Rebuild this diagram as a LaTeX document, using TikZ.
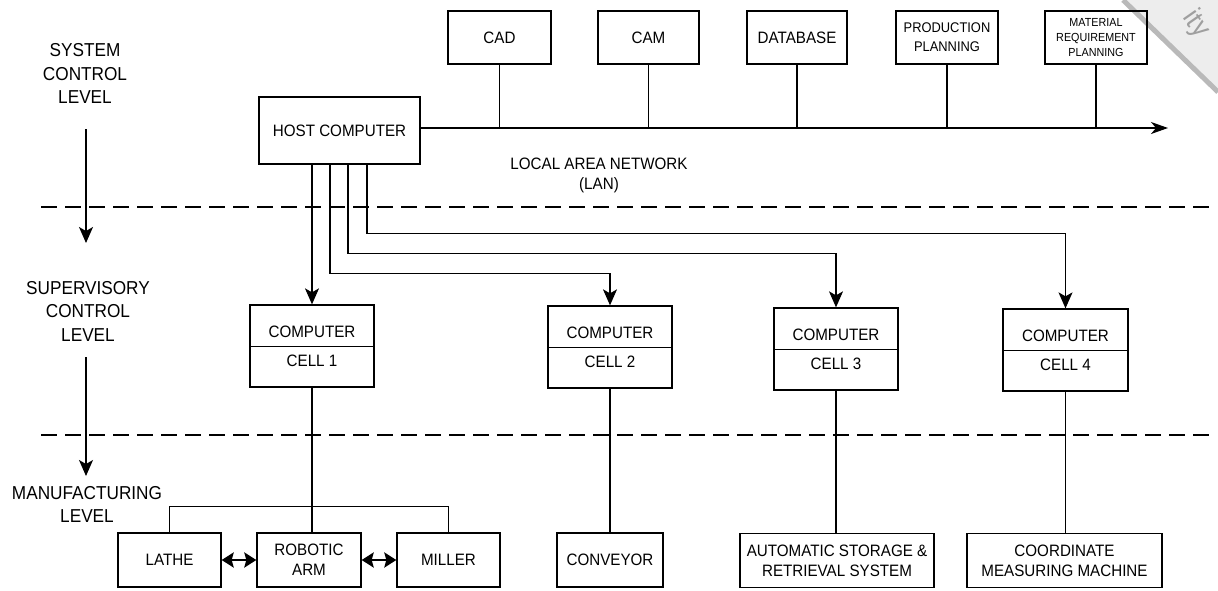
\documentclass[tikz,border=0pt]{standalone}
\usepackage{fontspec}
\setmainfont{Liberation Sans}[FakeStretch=0.92]
\usetikzlibrary{arrows.meta}
\newcommand\dgmain{\fontsize{16.5}{20}\selectfont}
\newcommand\dgbig{\fontsize{18.7}{23.5}\selectfont}
\newcommand\dgpp{\fontsize{14}{19}\selectfont}
\newcommand\dgmrp{\fontsize{11.7}{15}\selectfont}
\begin{document}
\begin{tikzpicture}[x=1pt,y=-1pt,
  line width=1.3pt,
  box/.style={draw,inner sep=0pt,align=center,font=\dgmain},
  lbl/.style={inner sep=0pt,align=center,font=\dgbig},
  txt/.style={inner sep=0pt,align=center,font=\dgmain},
  arr/.style={-{Stealth[length=16pt,width=14pt,inset=4pt]}},
  dbl/.style={line width=2.6pt,{Stealth[length=12pt,width=15pt,inset=2pt]}-{Stealth[length=12pt,width=15pt,inset=2pt]}},
  dsh/.style={dash pattern=on 16pt off 8pt}]
\useasboundingbox (0,0) rectangle (1218,590);
% watermark fragment
\fill[gray!14] (1123,0) -- (1218,0) -- (1218,92) -- cycle;
\draw[gray!55,line width=5pt] (1123,0) -- (1218,92);
\node[gray!75,font=\fontsize{28}{28}\selectfont,rotate=-55] (wm) at (1196,24) {ity};
% top boxes
\node[box,minimum width=103,minimum height=53] (cad) at (499.5,37.5) {CAD};
\node[box,minimum width=101,minimum height=53] (cam) at (648.5,37.5) {CAM};
\node[box,minimum width=100,minimum height=53] (db) at (797,37.5) {DATABASE};
\node[box,minimum width=102,minimum height=53,font=\dgpp] (pp) at (947,37.5) {PRODUCTION\\PLANNING};
\node[box,minimum width=102,minimum height=53,font=\dgmrp] (mrp) at (1096,37.5) {MATERIAL\\REQUIREMENT\\PLANNING};
% host
\node[box,minimum width=161,minimum height=67] (host) at (339.5,130.5) {HOST COMPUTER};
\coordinate (lanend) at (1168,128);
\draw[-{Stealth[length=17pt,width=12pt,inset=5pt]}] (host.east |- lanend) -- (lanend);
\foreach \n in {cad,cam,db,pp,mrp} \draw (\n.south) -- (\n.south |- lanend);
\node[txt] (lan) at (599,175) {LOCAL AREA NETWORK\\(LAN)};
% level labels
\node[lbl] (sys) at (85,73.5) {SYSTEM\\CONTROL\\LEVEL};
\node[lbl] (sup) at (88,311) {SUPERVISORY\\CONTROL\\LEVEL};
\node[lbl] (man) at (87,504.5) {MANUFACTURING\\LEVEL};
\coordinate (a1s) at (86,129);
\coordinate (a1e) at (86,243);
\coordinate (a2s) at (86,357);
\coordinate (a2e) at (86,476);
\draw[arr] (a1s) -- (a1e);
\draw[arr] (a2s) -- (a2e);
% dashed separators
\coordinate (d1l) at (41,207);
\coordinate (d1r) at (1214,207);
\coordinate (d2l) at (41,435);
\coordinate (d2r) at (1214,435);
\draw[dsh] (d1l) -- (d1r);
\draw[dsh] (d2l) -- (d2r);
% cells
\node[draw,inner sep=0pt,minimum width=124,minimum height=82] (c1) at (312,346) {};
\node[draw,inner sep=0pt,minimum width=124,minimum height=82] (c2) at (610,347) {};
\node[draw,inner sep=0pt,minimum width=124,minimum height=82] (c3) at (836,349) {};
\node[draw,inner sep=0pt,minimum width=125,minimum height=82] (c4) at (1065.5,350) {};
\foreach \c/\k in {c1/1,c2/2,c3/3,c4/4}{
  \draw ([yshift=-42pt]\c.north west) -- ([yshift=-42pt]\c.north east);
  \node[txt] (\c t) at ([yshift=-27pt]\c.north) {COMPUTER};
  \node[txt] (\c b) at ([yshift=-56pt]\c.north) {CELL \k};
}
% host to cells
\draw[arr] ([xshift=-27.5pt]host.south) -- (c1.north);
\draw[arr] ([xshift=-9.5pt]host.south) -- ++(0,109) -| (c2.north);
\draw[arr] ([xshift=8.5pt]host.south) -- ++(0,89) -| (c3.north);
\draw[arr] ([xshift=27.5pt]host.south) -- ++(0,69) -| (c4.north);
% manufacturing
\node[box,minimum width=103,minimum height=54] (lathe) at (169.5,560) {LATHE};
\node[box,minimum width=104,minimum height=54] (robot) at (309,560) {ROBOTIC\\ARM};
\node[box,minimum width=103,minimum height=54] (miller) at (448.5,560) {MILLER};
\node[box,minimum width=106,minimum height=54] (conv) at (610,560) {CONVEYOR};
\node[box,minimum width=194,minimum height=54] (asrs) at (837,560.5) {AUTOMATIC STORAGE \&\\RETRIEVAL SYSTEM};
\node[box,minimum width=195,minimum height=54] (cmm) at (1064.5,560.5) {COORDINATE\\MEASURING MACHINE};
\draw (c1.south) -- (c1.south |- robot.north);
\draw (lathe.north) -- ++(0,-26) -| (miller.north);
\draw (c2.south) -- (c2.south |- conv.north);
\draw (c3.south) -- (c3.south |- asrs.north);
\draw (c4.south) -- (c4.south |- cmm.north);
\draw[dbl] (lathe.east) -- (robot.west);
\draw[dbl] (robot.east) -- (miller.west);
\end{tikzpicture}
\end{document}
